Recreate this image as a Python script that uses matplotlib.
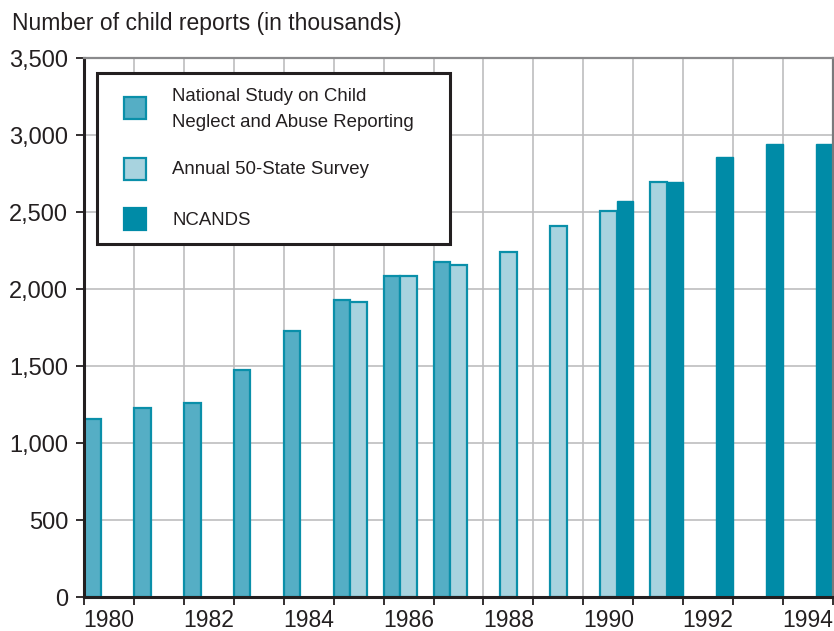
import matplotlib
matplotlib.use("Agg")
import matplotlib.pyplot as plt
from matplotlib.patches import Rectangle
from matplotlib.ticker import FixedLocator, FuncFormatter
import numpy as np

plt.rcParams['font.family'] = ['Liberation Sans', 'DejaVu Sans']

# Child maltreatment reports, thousands, by data source
nscnar_years = [1980, 1981, 1982, 1983, 1984, 1985, 1986, 1987]
nscnar_values = [1154, 1225, 1262, 1477, 1727, 1928, 2086, 2178]

survey_years = [1985, 1986, 1987, 1988, 1989, 1990, 1991]
survey_values = [1919, 2086, 2157, 2243, 2410, 2510, 2694]

ncands_years = [1990, 1991, 1992, 1993, 1994]
ncands_values = [2573, 2698, 2861, 2941, 2940]

year_labels = ["1980", "1982", "1984", "1986", "1988", "1990", "1992", "1994"]
legend_labels = ["National Study on Child\nNeglect and Abuse Reporting",
                 "Annual 50-State Survey",
                 "NCANDS"]

C_NSCNAR = "#55aec5"
C_SURVEY = "#a8d3df"
C_NCANDS = "#008ba7"
C_EDGE = "#0a8fa9"
TEXT = "#231f20"

W, H = 834, 631
fig = plt.figure(figsize=(W / 100, H / 100), dpi=100)
ax = fig.add_axes([84 / W, 1 - 597 / H, (833 - 84) / W, (597 - 58.3) / H])

bw = 1 / 3
ax.bar(np.array(nscnar_years), nscnar_values, width=bw, align="edge",
       color=C_NSCNAR, edgecolor=C_EDGE, linewidth=1.6, zorder=3)
ax.bar(np.array(survey_years) + bw, survey_values, width=bw, align="edge",
       color=C_SURVEY, edgecolor=C_EDGE, linewidth=1.6, zorder=3)
ax.bar(np.array(ncands_years) + 2 * bw, ncands_values, width=bw, align="edge",
       color=C_NCANDS, edgecolor=C_NCANDS, linewidth=1.0, zorder=3)

ax.set_xlim(1980, 1995)
ax.set_ylim(0, 3500)

# year boundaries carry the grid; labels sit in the middle of each year slot
ax.xaxis.set_major_locator(FixedLocator(np.arange(1980, 1996)))
ax.xaxis.set_minor_locator(FixedLocator([int(y) + 0.5 for y in year_labels]))
ax.set_xticklabels([])
ax.set_xticklabels(year_labels, minor=True)
ax.tick_params(axis="x", which="major", length=6, width=1.3, color=TEXT)
ax.tick_params(axis="x", which="minor", length=0, pad=8.5, labelsize=16.5,
               labelcolor=TEXT)

ax.set_yticks(np.arange(0, 3501, 500))
ax.yaxis.set_major_formatter(FuncFormatter(lambda v, p: f"{int(v):,}"))
ax.tick_params(axis="y", length=6, width=1.3, color=TEXT, pad=5.5,
               labelsize=17, labelcolor=TEXT)

ax.grid(True, which="major", color="#bdbdbf", linewidth=1.2, zorder=0)
ax.set_axisbelow(True)

ax.spines["left"].set_color(TEXT)
ax.spines["left"].set_linewidth(2.2)
ax.spines["bottom"].set_color(TEXT)
ax.spines["bottom"].set_linewidth(2.2)
ax.spines["top"].set_color("#8a8a8c")
ax.spines["top"].set_linewidth(1.6)
ax.spines["right"].set_color("#7a7a7c")
ax.spines["right"].set_linewidth(1.6)
for s in ax.spines.values():
    s.set_zorder(4)

fig.text(12 / W, 1 - 30 / H, "Number of child reports (in thousands)",
         fontsize=16.5, color=TEXT, va="baseline", ha="left")


# legend panel in figure pixel coordinates
def fx(x):
    return x / W


def fy(y):
    return 1 - y / H


fig.add_artist(Rectangle((fx(97), fy(244)), (450 - 97) / W, (244 - 73) / H,
                         transform=fig.transFigure, facecolor="white",
                         edgecolor=TEXT, linewidth=2.2, zorder=10))
entries = [
    (108.5, C_NSCNAR, C_EDGE, legend_labels[0]),
    (169, C_SURVEY, C_EDGE, legend_labels[1]),
    (219, C_NCANDS, C_NCANDS, legend_labels[2]),
]
for cy, fc, ec, lab in entries:
    fig.add_artist(Rectangle((fx(124), fy(cy + 11)), 22 / W, 22 / H,
                             transform=fig.transFigure, facecolor=fc,
                             edgecolor=ec, linewidth=1.6, zorder=11))
    fig.text(fx(172), fy(cy + 1), lab, fontsize=13.4, color=TEXT, va="center",
             ha="left", linespacing=1.65, zorder=12)

fig.savefig("out.png", dpi=100)
